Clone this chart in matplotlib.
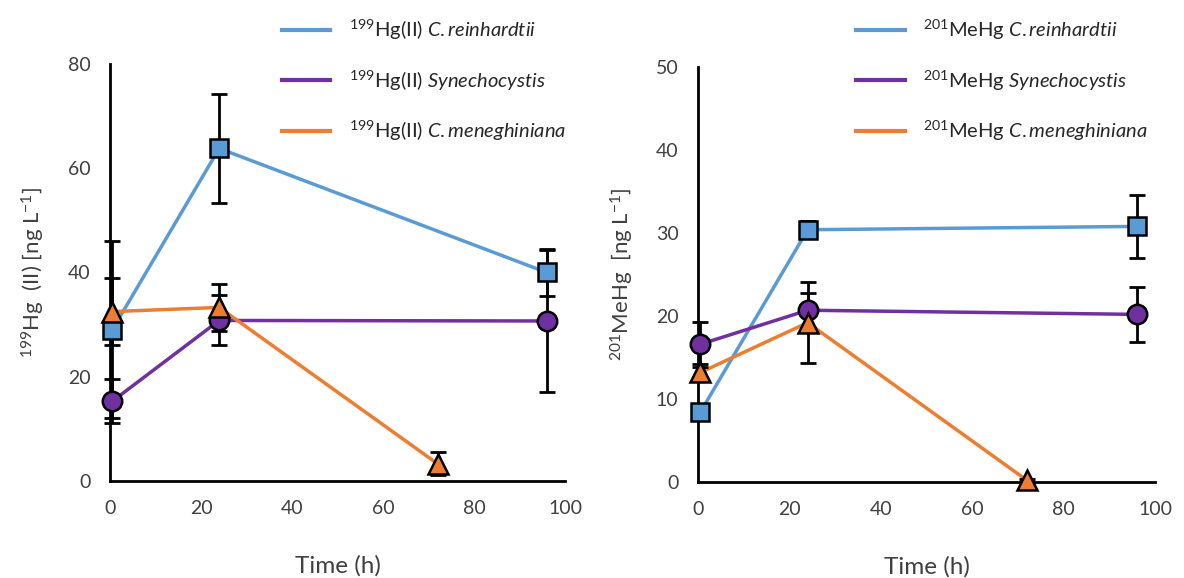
import matplotlib.pyplot as plt

plt.rcParams['font.family'] = ['Lato', 'DejaVu Sans']
plt.rcParams['mathtext.fontset'] = 'custom'
plt.rcParams['mathtext.rm'] = 'Lato'
plt.rcParams['mathtext.it'] = 'Lato:italic'
plt.rcParams['mathtext.default'] = 'regular'

# time points (h)
time_main = [0.5, 24, 96]
time_cmen = [0.5, 24, 72]

# 199Hg(II) panel
hg_crein = [29.0, 63.8, 40.0]
hg_crein_err = [17.0, 10.5, 4.5]
hg_syn = [15.3, 30.8, 30.7]
hg_syn_err = [4.2, 4.8, 13.6]
hg_cmen = [32.5, 33.3, 3.3]
hg_cmen_err = [6.5, 4.5, 2.2]

# 201MeHg panel
mehg_crein = [8.4, 30.4, 30.8]
mehg_crein_err = [0.5, 1.0, 3.8]
mehg_syn = [16.6, 20.7, 20.2]
mehg_syn_err = [2.7, 2.1, 3.3]
mehg_cmen = [13.2, 19.2, 0.2]
mehg_cmen_err = [1.0, 4.9, 0.2]

species = ['C.reinhardtii', 'Synechocystis', 'C.meneghiniana']
colors = ['#5B9BD5', '#7030A0', '#ED7D31']
markers = ['s', 'o', '^']
msizes = [13, 14, 14]
text_col = '#404040'

fig = plt.figure(figsize=(11.84, 5.78), dpi=100)
ax1 = fig.add_axes([0.0929, 0.1678, 0.3843, 0.7215])
ax2 = fig.add_axes([0.5895, 0.166, 0.386, 0.718])


def draw_panel(ax, series, prefix, ymax, ystep, ylabel):
    handles = []
    for i, (x, y, e) in enumerate(series):
        ax.errorbar(x, y, yerr=e, fmt='none', ecolor='black', elinewidth=2,
                    capsize=6, capthick=2, zorder=2, clip_on=False)
        ax.plot(x, y, color=colors[i], linewidth=2.5, zorder=1, clip_on=False)
        ax.plot(x, y, linestyle='none', marker=markers[i], markersize=msizes[i],
                markerfacecolor=colors[i], markeredgecolor='black',
                markeredgewidth=1.8, zorder=3, clip_on=False)
        h, = ax.plot([], [], color=colors[i], linewidth=3,
                     label=prefix + r' $\mathit{' + species[i] + '}$')
        handles.append(h)
    ax.set_xlim(0, 100)
    ax.set_ylim(0, ymax)
    ax.set_xticks(range(0, 101, 20))
    ax.set_yticks(range(0, ymax + 1, ystep))
    for s in ['top', 'right']:
        ax.spines[s].set_visible(False)
    for s in ['left', 'bottom']:
        ax.spines[s].set_linewidth(2)
    ax.tick_params(length=0, labelsize=14, labelcolor=text_col, pad=14)
    ax.set_xlabel('Time (h)', fontsize=17.5, color=text_col, labelpad=27)
    ax.set_ylabel(ylabel, fontsize=16, color=text_col, labelpad=15)
    return handles


h1 = draw_panel(ax1, [(time_main, hg_crein, hg_crein_err),
                      (time_main, hg_syn, hg_syn_err),
                      (time_cmen, hg_cmen, hg_cmen_err)],
                r'$^{199}$Hg(II)', 80, 20, r'$^{199}$Hg  (II) [ng L$^{-1}$]')
h2 = draw_panel(ax2, [(time_main, mehg_crein, mehg_crein_err),
                      (time_main, mehg_syn, mehg_syn_err),
                      (time_cmen, mehg_cmen, mehg_cmen_err)],
                r'$^{201}$MeHg', 50, 10, r'$^{201}$MeHg  [ng L$^{-1}$]')
ax2.yaxis.labelpad = 14

for ax, h, x0 in [(ax1, h1, 0.223), (ax2, h2, 0.708)]:
    leg = fig.legend(handles=h, loc='upper left', bbox_to_anchor=(x0, 1.0),
                     frameon=False, fontsize=14.5, labelspacing=1.3,
                     handlelength=2.4, handletextpad=0.9)
    for t in leg.get_texts():
        t.set_color('#262626')

fig.savefig('out.png', dpi=100)
